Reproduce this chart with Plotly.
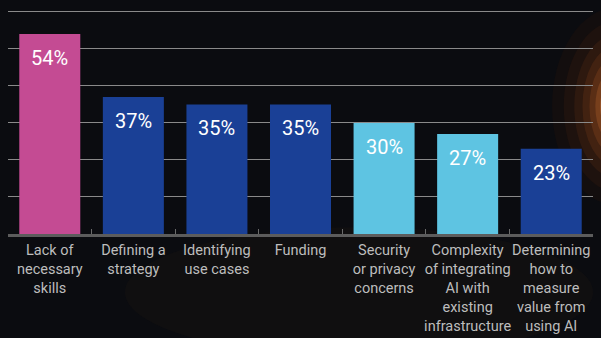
import plotly.graph_objects as go

categories = [
    "Lack of<br>necessary<br>skills",
    "Defining a<br>strategy",
    "Identifying<br>use cases",
    "Funding",
    "Security<br>or privacy<br>concerns",
    "Complexity<br>of integrating<br>AI with<br>existing<br>infrastructure",
    "Determining<br>how to<br>measure<br>value from<br>using AI",
]
values = [54, 37, 35, 35, 30, 27, 23]
bar_colors = ["#C44B93", "#1A4096", "#1A4096", "#1A4096", "#5EC4E2", "#5EC4E2", "#1A4096"]
y_ticks = [0, 10, 20, 30, 40, 50, 60]

FONT = "Roboto, sans-serif"

fig = go.Figure()
fig.add_trace(go.Bar(
    x=categories, y=values, marker=dict(color=bar_colors, line=dict(width=0)),
    hoverinfo="skip",
))

for c, v in zip(categories, values):
    fig.add_annotation(x=c, y=v, text=f"{v}%", showarrow=False, yshift=-24,
                       font=dict(family=FONT, size=20, color="#ffffff"))

# background glow (decorative), soft layers at the right edge
glow_layers = [
    (0.110, 0.44, "rgba(70,30,10,0.14)"),
    (0.090, 0.38, "rgba(100,45,15,0.14)"),
    (0.072, 0.32, "rgba(130,60,22,0.16)"),
    (0.058, 0.27, "rgba(160,75,30,0.18)"),
    (0.046, 0.22, "rgba(190,95,40,0.20)"),
    (0.036, 0.17, "rgba(215,115,55,0.24)"),
    (0.028, 0.12, "rgba(235,140,80,0.28)"),
]
for rx, ry, col in glow_layers:
    fig.add_shape(type="circle", xref="paper", yref="paper",
                  x0=1.04 - rx, x1=1.04 + rx, y0=0.57 - ry, y1=0.57 + ry,
                  fillcolor=col, line=dict(width=0), layer="below")
fig.add_shape(type="circle", xref="paper", yref="paper",
              x0=0.2, x1=1.0, y0=-0.55, y1=0.03,
              fillcolor="rgba(40,32,22,0.20)", line=dict(width=0), layer="below")

fig.update_layout(
    width=601, height=338,
    margin=dict(l=8, r=8, t=10, b=104, autoexpand=False),
    paper_bgcolor="#0b0c10", plot_bgcolor="rgba(0,0,0,0)",
    bargap=0.27, showlegend=False,
    font=dict(family=FONT, color="#bdbdbd"),
)
fig.update_xaxes(
    showline=True, linecolor="#5c5c5c", linewidth=3,
    ticks="inside", tickson="boundaries", ticklen=5, tickcolor="#6a6a6a", tickwidth=1,
    tickfont=dict(family=FONT, size=14.5, color="#bdbdbd"), tickangle=0,
    ticklabelstandoff=1,
    automargin=False, showgrid=False, fixedrange=True,
)
fig.update_yaxes(
    range=[0, 60.5], tickvals=y_ticks, showticklabels=False,
    showgrid=True, gridcolor="#8a8a8a", gridwidth=1, zeroline=False,
    automargin=False, fixedrange=True,
)

fig.write_html("out.html", config={"displayModeBar": False})
